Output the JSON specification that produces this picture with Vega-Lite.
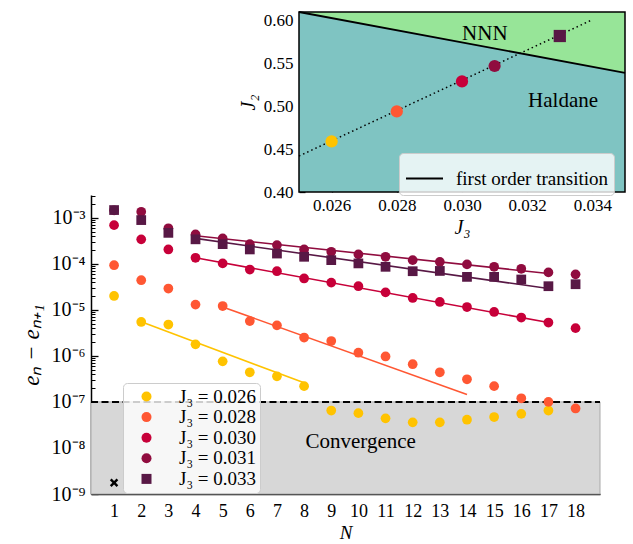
{
 "$schema": "https://vega.github.io/schema/vega-lite/v6.json",
 "width": 509, "height": 299,
 "autosize": {"type": "none"},
 "padding": {"left": 91, "top": 195, "right": 33, "bottom": 50},
 "background": "white",
 "config": {
   "font": "Liberation Serif",
   "view": {"stroke": null},
   "axis": {"grid": false, "domainColor": "black", "tickColor": "black", "labelColor": "black", "titleColor": "black", "labelFontSize": 17, "titleFontSize": 20, "titleFontWeight": "normal", "domainWidth": 1.5, "tickWidth": 1.3, "zindex": 1, "labelFont": "Liberation Serif", "titleFont": "Liberation Serif", "labelOverlap": false},
   "legend": {"labelFont": "Liberation Serif", "labelColor": "black"}
 },
 "datasets": {
   "pts": [
     {"N":1,"J3":"0.026","v":2.0e-5},{"N":2,"J3":"0.026","v":5.45e-6},{"N":3,"J3":"0.026","v":4.8e-6},{"N":4,"J3":"0.026","v":1.78e-6},{"N":5,"J3":"0.026","v":7.6e-7},{"N":6,"J3":"0.026","v":4.4e-7},{"N":7,"J3":"0.026","v":3.6e-7},{"N":8,"J3":"0.026","v":2.2e-7},{"N":9,"J3":"0.026","v":6.5e-8},{"N":10,"J3":"0.026","v":5.7e-8},{"N":11,"J3":"0.026","v":4.4e-8},{"N":12,"J3":"0.026","v":3.6e-8},{"N":13,"J3":"0.026","v":3.6e-8},{"N":14,"J3":"0.026","v":4.1e-8},{"N":15,"J3":"0.026","v":4.7e-8},{"N":16,"J3":"0.026","v":5.5e-8},{"N":17,"J3":"0.026","v":6.5e-8},
     {"N":1,"J3":"0.028","v":9.3e-5},{"N":2,"J3":"0.028","v":4.4e-5},{"N":3,"J3":"0.028","v":2.9e-5},{"N":4,"J3":"0.028","v":1.3e-5},{"N":5,"J3":"0.028","v":1.21e-5},{"N":6,"J3":"0.028","v":5.7e-6},{"N":7,"J3":"0.028","v":4.6e-6},{"N":8,"J3":"0.028","v":2.5e-6},{"N":9,"J3":"0.028","v":2.1e-6},{"N":10,"J3":"0.028","v":1.17e-6},{"N":11,"J3":"0.028","v":9.7e-7},{"N":12,"J3":"0.028","v":6.6e-7},{"N":13,"J3":"0.028","v":4.4e-7},{"N":14,"J3":"0.028","v":3.1e-7},{"N":15,"J3":"0.028","v":2.2e-7},{"N":16,"J3":"0.028","v":1.2e-7},{"N":17,"J3":"0.028","v":1.0e-7},{"N":18,"J3":"0.028","v":7.2e-8},
     {"N":1,"J3":"0.030","v":6.9e-4},{"N":2,"J3":"0.030","v":3.4e-4},{"N":3,"J3":"0.030","v":2.05e-4},{"N":4,"J3":"0.030","v":1.35e-4},{"N":5,"J3":"0.030","v":1.02e-4},{"N":6,"J3":"0.030","v":7.5e-5},{"N":7,"J3":"0.030","v":6.9e-5},{"N":8,"J3":"0.030","v":4.8e-5},{"N":9,"J3":"0.030","v":3.9e-5},{"N":10,"J3":"0.030","v":3.26e-5},{"N":11,"J3":"0.030","v":2.4e-5},{"N":12,"J3":"0.030","v":1.81e-5},{"N":13,"J3":"0.030","v":1.48e-5},{"N":14,"J3":"0.030","v":1.15e-5},{"N":15,"J3":"0.030","v":9.0e-6},{"N":16,"J3":"0.030","v":6.8e-6},{"N":17,"J3":"0.030","v":5.3e-6},{"N":18,"J3":"0.030","v":4.0e-6},
     {"N":1,"J3":"0.031","v":1.45e-3},{"N":2,"J3":"0.031","v":1.35e-3},{"N":3,"J3":"0.031","v":5.9e-4},{"N":4,"J3":"0.031","v":4.35e-4},{"N":5,"J3":"0.031","v":3.56e-4},{"N":6,"J3":"0.031","v":2.67e-4},{"N":7,"J3":"0.031","v":2.55e-4},{"N":8,"J3":"0.031","v":2.05e-4},{"N":9,"J3":"0.031","v":1.82e-4},{"N":10,"J3":"0.031","v":1.6e-4},{"N":11,"J3":"0.031","v":1.42e-4},{"N":12,"J3":"0.031","v":1.2e-4},{"N":13,"J3":"0.031","v":1.1e-4},{"N":14,"J3":"0.031","v":9.7e-5},{"N":15,"J3":"0.031","v":8.6e-5},{"N":16,"J3":"0.031","v":7.8e-5},{"N":17,"J3":"0.031","v":6.5e-5},{"N":18,"J3":"0.031","v":5.9e-5},
     {"N":1,"J3":"0.033","v":1.47e-3},{"N":2,"J3":"0.033","v":8.9e-4},{"N":3,"J3":"0.033","v":4.7e-4},{"N":4,"J3":"0.033","v":3.4e-4},{"N":5,"J3":"0.033","v":2.67e-4},{"N":6,"J3":"0.033","v":2.05e-4},{"N":7,"J3":"0.033","v":1.67e-4},{"N":8,"J3":"0.033","v":1.42e-4},{"N":9,"J3":"0.033","v":1.2e-4},{"N":10,"J3":"0.033","v":1.02e-4},{"N":11,"J3":"0.033","v":8.6e-5},{"N":12,"J3":"0.033","v":6.9e-5},{"N":13,"J3":"0.033","v":7.0e-5},{"N":14,"J3":"0.033","v":5.2e-5},{"N":15,"J3":"0.033","v":5.2e-5},{"N":16,"J3":"0.033","v":4.56e-5},{"N":17,"J3":"0.033","v":3.26e-5},{"N":18,"J3":"0.033","v":3.6e-5}
   ],
   "fits": [
     {"N":2,"J3":"0.026","v":5.5e-6},{"N":8,"J3":"0.026","v":2.6e-7},
     {"N":5,"J3":"0.028","v":1.15e-5},{"N":14,"J3":"0.028","v":1.45e-7},
     {"N":4,"J3":"0.030","v":1.35e-4},{"N":17,"J3":"0.030","v":5.3e-6},
     {"N":4,"J3":"0.031","v":4.07e-4},{"N":17,"J3":"0.031","v":6.15e-5},
     {"N":4,"J3":"0.033","v":3.56e-4},{"N":17,"J3":"0.033","v":2.9e-5}
   ],
   "dots": [
     {"x":0.026,"J2":0.459,"J3":"0.026"},{"x":0.028,"J2":0.494,"J3":"0.028"},{"x":0.030,"J2":0.529,"J3":"0.030"},{"x":0.031,"J2":0.547,"J3":"0.031"},{"x":0.033,"J2":0.582,"J3":"0.033"}
   ],
   "trans": [{"x":0.025,"J2":0.61},{"x":0.035,"J2":0.539}],
   "path": [{"x":0.025,"J2":0.442},{"x":0.034,"J2":0.601}]
 },
 "layer": [
  {
   "layer": [
    {
     "data": {"values": [{}]},
     "mark": {"type": "rect", "fill": "#d7d7d7", "stroke": "#a9a9a9", "strokeWidth": 1},
     "encoding": {
       "x": {"datum": 0.15, "type": "quantitative", "scale": {"domain": [0.15, 18.9], "nice": false, "zero": false},
         "axis": {"values": [1,2,3,4,5,6,7,8,9,10,11,12,13,14,15,16,17,18], "format": "d", "tickCount": 40, "labelOverlap": false, "labelBound": false, "tickSize": -7, "labelPadding": 15, "labelFontSize": 18, "title": "N", "titleFontSize": 19, "titleFontStyle": "italic", "titlePadding": 3}},
       "x2": {"datum": 18.9},
       "y": {"datum": 1e-9, "type": "quantitative", "scale": {"type": "log", "domain": [1e-9, 3.12e-3], "nice": false}, "axis": null},
       "y2": {"datum": 1e-7}
     }
    },
    {
     "data": {"values": [{}]},
     "mark": {"type": "rule", "color": "black", "strokeWidth": 2, "strokeDash": [7, 3.5]},
     "encoding": {
       "x": {"datum": 0.15, "type": "quantitative"},
       "x2": {"datum": 18.9},
       "y": {"datum": 1e-7, "type": "quantitative", "axis": {"orient": "left", "tickCount": 100, "values": [2e-9,3e-9,4e-9,5e-9,6e-9,7e-9,8e-9,9e-9,2e-8,3e-8,4e-8,5e-8,6e-8,7e-8,8e-8,9e-8,2e-7,3e-7,4e-7,5e-7,6e-7,7e-7,8e-7,9e-7,2e-6,3e-6,4e-6,5e-6,6e-6,7e-6,8e-6,9e-6,2e-5,3e-5,4e-5,5e-5,6e-5,7e-5,8e-5,9e-5,2e-4,3e-4,4e-4,5e-4,6e-4,7e-4,8e-4,9e-4,2e-3,3e-3], "labels": false, "domain": false, "tickSize": -4, "tickWidth": 1, "title": null}}
     }
    },
    {
     "data": {"name": "fits"},
     "mark": {"type": "line", "strokeWidth": 1.6},
     "encoding": {
       "x": {"field": "N", "type": "quantitative"},
       "y": {"field": "v", "type": "quantitative", "axis": null},
       "stroke": {"field": "J3", "type": "nominal", "scale": {"domain": ["0.026","0.028","0.030","0.031","0.033"], "range": ["#FFC300","#FF5733","#C70039","#900C3F","#581845"]}, "legend": null}
     }
    },
    {
     "data": {"name": "pts"},
     "mark": {"type": "point", "filled": true, "size": 95, "opacity": 1},
     "encoding": {
       "x": {"field": "N", "type": "quantitative", "axis": {"labelOverlap": false, "tickCount": 40, "format": "d"}},
       "y": {"field": "v", "type": "quantitative", "axis": {"orient": "left", "tickCount": 20, "values": [1e-9,1e-8,1e-7,1e-6,1e-5,1e-4,1e-3], "tickSize": -7, "labelPadding": 13, "labelFontSize": 20, "labelExpr": "'10⁻' + ['⁰','¹','²','³','⁴','⁵','⁶','⁷','⁸','⁹'][-round(log(datum.value)/LN10)]", "title": "eₙ − eₙ₊₁", "titleFontSize": 23, "titleFontStyle": "italic", "titlePadding": 8}},
       "color": {"field": "J3", "type": "nominal", "scale": {"domain": ["0.026","0.028","0.030","0.031","0.033"], "range": ["#FFC300","#FF5733","#C70039","#900C3F","#581845"]},
         "legend": {"orient": "none", "legendX": 32, "legendY": 188, "title": null, "fillColor": "rgba(255,255,255,0.8)", "strokeColor": "#cccccc", "cornerRadius": 4, "padding": 4, "symbolOffset": 10, "symbolSize": 100, "symbolStrokeWidth": 0, "labelFontSize": 19, "labelOffset": 23, "rowPadding": 0.6, "labelExpr": "'J₃ = ' + datum.label", "zindex": 2}},
       "shape": {"field": "J3", "type": "nominal", "scale": {"domain": ["0.026","0.028","0.030","0.031","0.033"], "range": ["circle","circle","circle","circle","square"]}}
     }
    },
    {
     "data": {"values": [{"N": 1, "v": 1.76e-9}]},
     "mark": {"type": "point", "shape": "M-1,-1L1,1M1,-1L-1,1", "filled": false, "stroke": "black", "strokeWidth": 2.4, "size": 45, "opacity": 1},
     "encoding": {
       "x": {"field": "N", "type": "quantitative"},
       "y": {"field": "v", "type": "quantitative", "axis": null}
     }
    },
    {
     "data": {"values": [{"N": 8.05, "v": 1.37e-8, "t": "Convergence"}]},
     "mark": {"type": "text", "align": "left", "baseline": "middle", "fontSize": 21, "color": "black"},
     "encoding": {
       "x": {"field": "N", "type": "quantitative"},
       "y": {"field": "v", "type": "quantitative", "axis": null},
       "text": {"field": "t"}
     }
    }
   ],
   "resolve": {"axis": {"y": "independent"}}
  },
  {
   "layer": [
    {
     "data": {"values": [{}]},
     "mark": {"type": "rect", "fill": "#97e598"},
     "encoding": {
       "x": {"datum": 0.025, "type": "quantitative", "scale": {"domain": [0.025, 0.035], "range": [208, 534], "nice": false, "zero": false},
         "axis": {"orient": "bottom", "offset": -302, "tickCount": 20, "values": [0.026,0.028,0.03,0.032,0.034], "format": ".3f", "tickSize": -6, "labelPadding": 11, "domain": false, "title": "J₃", "titleFontStyle": "italic", "titlePadding": 4}},
       "x2": {"datum": 0.035},
       "y": {"datum": 0.40, "type": "quantitative", "scale": {"domain": [0.40, 0.61], "range": [-3, -183], "nice": false, "zero": false},
         "axis": {"orient": "left", "offset": -208, "tickCount": 20, "values": [0.40,0.45,0.50,0.55,0.60], "format": ".2f", "tickSize": -6, "labelPadding": 12, "domain": false, "title": "J₂", "titleFontStyle": "italic", "titlePadding": 5}},
       "y2": {"datum": 0.61}
     }
    },
    {
     "data": {"name": "trans"},
     "mark": {"type": "area", "fill": "#7fc4c2", "opacity": 1},
     "encoding": {
       "x": {"field": "x", "type": "quantitative"},
       "y": {"field": "J2", "type": "quantitative"},
       "y2": {"datum": 0.40}
     }
    },
    {
     "data": {"name": "trans"},
     "mark": {"type": "line", "strokeWidth": 1.8},
     "encoding": {
       "x": {"field": "x", "type": "quantitative"},
       "y": {"field": "J2", "type": "quantitative"},
       "stroke": {"datum": "first order transition", "type": "nominal", "scale": {"range": ["black"]},
         "legend": {"orient": "none", "legendX": 308, "legendY": -42, "title": null, "fillColor": "rgba(255,255,255,0.8)", "strokeColor": "#cccccc", "cornerRadius": 4, "padding": 6, "symbolType": "stroke", "symbolSize": 1369, "symbolStrokeWidth": 1.8, "symbolStrokeColor": "black", "labelFontSize": 19, "labelOffset": 12, "zindex": 2}}
     }
    },
    {
     "data": {"name": "path"},
     "mark": {"type": "line", "color": "black", "strokeWidth": 1.5, "strokeDash": [1.5, 3]},
     "encoding": {
       "x": {"field": "x", "type": "quantitative"},
       "y": {"field": "J2", "type": "quantitative"}
     }
    },
    {
     "data": {"name": "dots"},
     "mark": {"type": "point", "filled": true, "size": 150, "opacity": 1},
     "encoding": {
       "x": {"field": "x", "type": "quantitative"},
       "y": {"field": "J2", "type": "quantitative"},
       "color": {"field": "J3", "type": "nominal"},
       "shape": {"field": "J3", "type": "nominal"}
     }
    },
    {
     "data": {"values": [{"x": 0.0307, "J2": 0.584, "t": "NNN"}, {"x": 0.0331, "J2": 0.5066, "t": "Haldane"}]},
     "mark": {"type": "text", "align": "center", "baseline": "middle", "fontSize": 21, "color": "black"},
     "encoding": {
       "x": {"field": "x", "type": "quantitative"},
       "y": {"field": "J2", "type": "quantitative"},
       "text": {"field": "t"}
     }
    },
    {
     "data": {"values": [{}]},
     "mark": {"type": "rect", "fill": null, "fillOpacity": 0, "stroke": "black", "strokeWidth": 1.5},
     "encoding": {
       "x": {"datum": 0.025, "type": "quantitative"},
       "x2": {"datum": 0.035},
       "y": {"datum": 0.40, "type": "quantitative"},
       "y2": {"datum": 0.61}
     }
    }
   ]
  }
 ],
 "resolve": {"scale": {"x": "independent", "y": "independent", "stroke": "independent"}}
}
